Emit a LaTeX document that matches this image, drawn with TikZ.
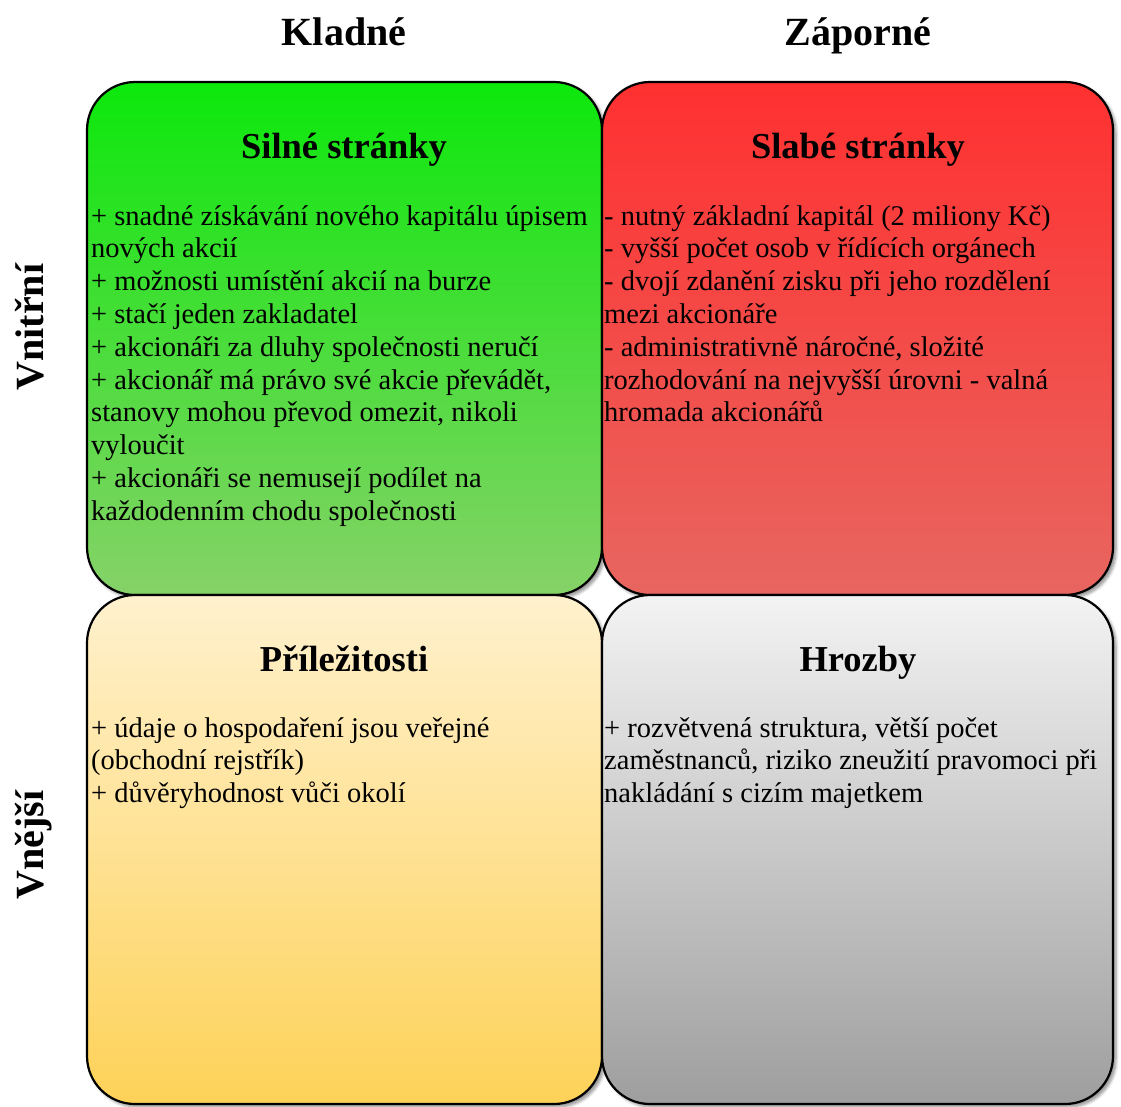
\documentclass[tikz,border=0pt]{standalone}
\usepackage{fontspec}
\setmainfont{Liberation Serif}
\usetikzlibrary{shadows.blur}
\definecolor{gtop}{RGB}{12,232,12}
\definecolor{gbot}{RGB}{134,210,104}
\definecolor{rtop}{RGB}{255,48,48}
\definecolor{rbot}{RGB}{232,102,96}
\definecolor{ytop}{RGB}{255,241,206}
\definecolor{ybot}{RGB}{254,210,88}
\definecolor{ktop}{RGB}{243,243,243}
\definecolor{kbot}{RGB}{158,158,158}
\newcommand{\bodytext}[1]{\parbox[t]{600pt}{\fontsize{28.5}{32.8}\selectfont\raggedright #1}}
\begin{document}
\begin{tikzpicture}[x=1pt,y=-1pt,
  quad/.style={draw=black, line width=2.2pt, rounded corners=48pt, inner sep=0pt,
    blur shadow={shadow xshift=3pt, shadow yshift=-3pt, shadow blur radius=3pt,
      shadow blur steps=6, shadow opacity=45}},
  hdr/.style={font=\fontsize{40}{44}\selectfont\bfseries, inner sep=0pt},
  ttl/.style={font=\fontsize{36.5}{40}\selectfont\bfseries, inner sep=0pt, anchor=base},
  bodynode/.style={inner sep=0pt, anchor=base west}]
\useasboundingbox (0,0) rectangle (1121,1106);
% boxes
\node[quad, top color=gtop, bottom color=gbot, minimum width=515pt, minimum height=513pt] (sw) at (344.5,338.5) {};
\node[quad, top color=rtop, bottom color=rbot, minimum width=511pt, minimum height=513pt] (wk) at (857.5,338.5) {};
\node[quad, top color=ytop, bottom color=ybot, minimum width=515pt, minimum height=509pt] (op) at (344.5,849.5) {};
\node[quad, top color=ktop, bottom color=kbot, minimum width=511pt, minimum height=509pt] (th) at (857.5,849.5) {};
% headers
\node[hdr, anchor=base] (kladne) at (344,45) {Kladné};
\node[hdr, anchor=base] (zaporne) at (858,45) {Záporné};
\node[hdr, anchor=base, rotate=90] (vnitrni) at (43,327) {Vnitřní};
\node[hdr, anchor=base, rotate=90] (vnejsi) at (43,845) {Vnější};
% titles
\node[ttl] (swt) at (344,158) {Silné stránky};
\node[ttl] (wkt) at (858,158) {Slabé stránky};
\node[ttl] (opt) at (344,671) {Příležitosti};
\node[ttl] (tht) at (858,671) {Hrozby};
% body texts
\node[bodynode] (swb) at (91,225) {\bodytext{%
+ snadné získávání nového kapitálu úpisem\\
nových akcií\\
+ možnosti umístění akcií na burze\\
+ stačí jeden zakladatel\\
+ akcionáři za dluhy společnosti neručí\\
+ akcionář má právo své akcie převádět,\\
stanovy mohou převod omezit, nikoli\\
vyloučit\\
+ akcionáři se nemusejí podílet na\\
každodenním chodu společnosti}};
\node[bodynode] (wkb) at (604,225) {\bodytext{%
- nutný základní kapitál (2 miliony Kč)\\
- vyšší počet osob v řídících orgánech\\
- dvojí zdanění zisku při jeho rozdělení\\
mezi akcionáře\\
- administrativně náročné, složité\\
rozhodování na nejvyšší úrovni - valná\\
hromada akcionářů}};
\node[bodynode] (opb) at (91,737) {\bodytext{%
+ údaje o hospodaření jsou veřejné\\
(obchodní rejstřík)\\
+ důvěryhodnost vůči okolí}};
\node[bodynode] (thb) at (604,737) {\bodytext{%
+ rozvětvená struktura, větší počet\\
zaměstnanců, riziko zneužití pravomoci při\\
nakládání s cizím majetkem}};
\end{tikzpicture}
\end{document}
